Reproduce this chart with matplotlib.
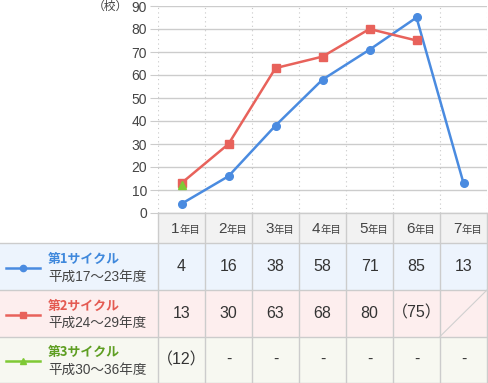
import matplotlib
matplotlib.use("Agg")
import matplotlib.pyplot as plt
from matplotlib.patches import Rectangle

plt.rcParams['font.family'] = ['Liberation Sans', 'Noto Sans CJK JP', 'DejaVu Sans']

years = ["1", "2", "3", "4", "5", "6", "7"]
year_suffix = "年目"
cycle_names = ["第1サイクル", "第2サイクル", "第3サイクル"]
cycle_periods = ["平成17～23年度", "平成24～29年度", "平成30～36年度"]
cycle1 = [4, 16, 38, 58, 71, 85, 13]
cycle2 = [13, 30, 63, 68, 80, 75, None]
cycle3 = [12, None, None, None, None, None, None]
table1 = ["4", "16", "38", "58", "71", "85", "13"]
table2 = ["13", "30", "63", "68", "80", "（75）", ""]
table3 = ["（12）", "-", "-", "-", "-", "-", "-"]
yticks = [0, 10, 20, 30, 40, 50, 60, 70, 80, 90]
y_unit = "（校）"

line_colors = ["#4a8be0", "#e8625b", "#7fc935"]
name_colors = ["#3f88dc", "#e45a52", "#5e9e22"]
row_bg = ["#edf4fd", "#fdeeee", "#f7f8f1"]
markers = ["o", "s", "^"]

W, H = 488, 383
fig = plt.figure(figsize=(W / 100, H / 100), dpi=100)

axt = fig.add_axes([0, 0, 1, 1])
axt.set_xlim(0, W)
axt.set_ylim(H, 0)
axt.axis('off')

x0 = 158
colw = 47
col_edges = [x0 + i * colw for i in range(8)]
row_edges = [213, 243, 290, 336.5, 382.5]
grid_c = "#cccccc"

axt.add_patch(Rectangle((x0, row_edges[0]), col_edges[-1] - x0, row_edges[1] - row_edges[0],
                        facecolor="#f2f2f2", edgecolor="none", zorder=0))
for r in range(3):
    axt.add_patch(Rectangle((0, row_edges[r + 1]), W, row_edges[r + 2] - row_edges[r + 1],
                            facecolor=row_bg[r], edgecolor="none", zorder=0))
axt.plot([x0, col_edges[-1]], [row_edges[0], row_edges[0]], color=grid_c, lw=1, zorder=1)
for yy in row_edges[1:]:
    axt.plot([0, col_edges[-1]], [yy, yy], color=grid_c, lw=1, zorder=1)
for xx in col_edges:
    axt.plot([xx, xx], [row_edges[0], row_edges[-1]], color=grid_c, lw=1, zorder=1)
axt.plot([col_edges[6], col_edges[7]], [row_edges[3], row_edges[2]], color="#d0d0d0", lw=0.8, zorder=1)

for i, y in enumerate(years):
    cx = col_edges[i] + colw / 2
    axt.text(cx - 2, 229, y, fontsize=11, color="#444444", ha='right', va='center', zorder=3)
    axt.text(cx - 2, 229.5, year_suffix, family=['Noto Sans CJK JP'], fontsize=7.5,
             color="#444444", ha='left', va='center', zorder=3)

tables = [table1, table2, table3]
for r in range(3):
    cy = (row_edges[r + 1] + row_edges[r + 2]) / 2
    for i, t in enumerate(tables[r]):
        cx = col_edges[i] + colw / 2
        axt.text(cx, cy, t, fontsize=11.5, color="#333333", ha='center', va='center', zorder=3)
    axt.plot([6, 40], [cy + 1.5, cy + 1.5], color=line_colors[r], lw=1.8, zorder=3)
    axt.plot([23], [cy + 1.5], marker=markers[r], color=line_colors[r], ms=4.5, zorder=4, ls='none')
    axt.text(48, cy - 7.5, cycle_names[r], family=['Noto Sans CJK JP'], fontsize=9.3,
             fontweight='bold', color=name_colors[r], ha='left', va='center', zorder=3)
    axt.text(48, cy + 10, cycle_periods[r], family=['Liberation Sans', 'Noto Sans CJK JP'],
             fontsize=9.8, color="#444444", ha='left', va='center', zorder=3)

ax = fig.add_axes([x0 / W, (H - 213) / H, (col_edges[-1] - x0) / W, (213 - 6) / H])
ax.patch.set_alpha(0)
ax.set_xlim(0, 7)
ax.set_ylim(0, 90)
for s in ax.spines.values():
    s.set_visible(False)
ax.set_yticks(yticks)
ax.set_yticklabels([str(v) for v in yticks], fontsize=10, color="#444444")
ax.tick_params(axis='y', length=6, color=grid_c, pad=2)
ax.set_xticks([])
for v in yticks:
    ax.axhline(v, color=grid_c, lw=1, zorder=0)
for i in range(8):
    ax.axvline(i, color="#c8c8c8", lw=0.8, ls=(0, (1, 3)), zorder=0)

xs = [i + 0.5 for i in range(7)]
for r, series in enumerate([cycle1, cycle2, cycle3]):
    px = [x for x, v in zip(xs, series) if v is not None]
    py = [v for v in series if v is not None]
    ax.plot(px, py, color=line_colors[r], lw=1.8, marker=markers[r], ms=5.5, zorder=3 + r,
            clip_on=False)

ax.text(-0.092, 1.0, y_unit, transform=ax.transAxes, family=['Noto Sans CJK JP'],
        fontsize=8.5, color="#444444", ha='right', va='center')

fig.savefig("out.png", dpi=100)
